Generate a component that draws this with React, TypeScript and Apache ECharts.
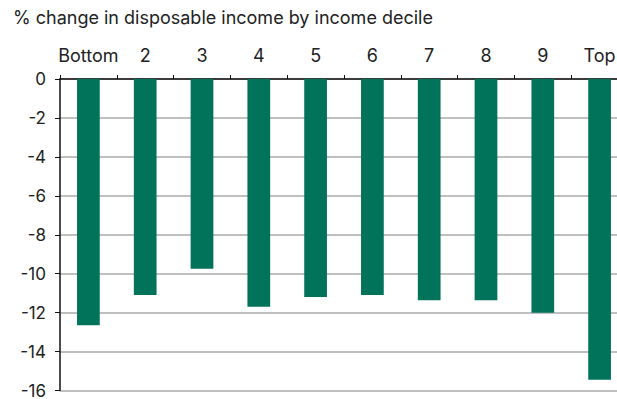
import React, { useEffect, useRef } from "react";
import * as echarts from "echarts";

const title = "% change in disposable income by income decile";
const categories = ["Bottom", "2", "3", "4", "5", "6", "7", "8", "9", "Top"];
const values = [-12.65, -11.1, -9.75, -11.7, -11.2, -11.1, -11.37, -11.37, -12.0, -15.45];
const yMin = -16;
const yMax = 0;
const yInterval = 2;

const FONT = "Inter, 'Liberation Sans', Arial, sans-serif";

export default function App() {
  const ref = useRef<HTMLDivElement>(null);
  useEffect(() => {
    document.body.style.margin = "0";
    if (!ref.current) return;
    const chart = echarts.init(ref.current, undefined, { renderer: "svg" });
    chart.setOption({
      animation: false,
      backgroundColor: "#ffffff",
      title: {
        text: title,
        left: 13,
        top: 8,
        padding: 0,
        textStyle: { fontFamily: FONT, fontSize: 18, fontWeight: "normal", color: "#222222" },
      },
      grid: { left: 60, top: 79, width: 568, height: 315, containLabel: false },
      xAxis: {
        type: "category",
        position: "top",
        data: categories,
        axisLine: { onZero: false, lineStyle: { color: "#111111", width: 1.5 } },
        axisTick: { show: true, length: 4, interval: 0, lineStyle: { color: "#111111", width: 1 } },
        axisLabel: { interval: 0, margin: 15, fontFamily: FONT, fontSize: 18, color: "#222222" },
        splitLine: { show: false },
      },
      yAxis: {
        type: "value",
        min: yMin,
        max: yMax,
        interval: yInterval,
        axisLine: { show: true, lineStyle: { color: "#111111", width: 1.5 } },
        axisTick: { show: true, length: 5, lineStyle: { color: "#111111", width: 1 } },
        axisLabel: { margin: 14, fontFamily: FONT, fontSize: 17, color: "#222222" },
        splitLine: { show: true, lineStyle: { color: "#aaaaaa", width: 1.5 } },
      },
      series: [
        {
          type: "bar",
          data: values,
          barWidth: "40%",
          itemStyle: { color: "#00735a" },
        },
      ],
    });
    return () => chart.dispose();
  }, []);
  return (
    <div style={{ width: 617, height: 399, position: "absolute", left: 0, top: 0, overflow: "hidden" }}>
      <div ref={ref} style={{ width: 640, height: 399 }} />
    </div>
  );
}
